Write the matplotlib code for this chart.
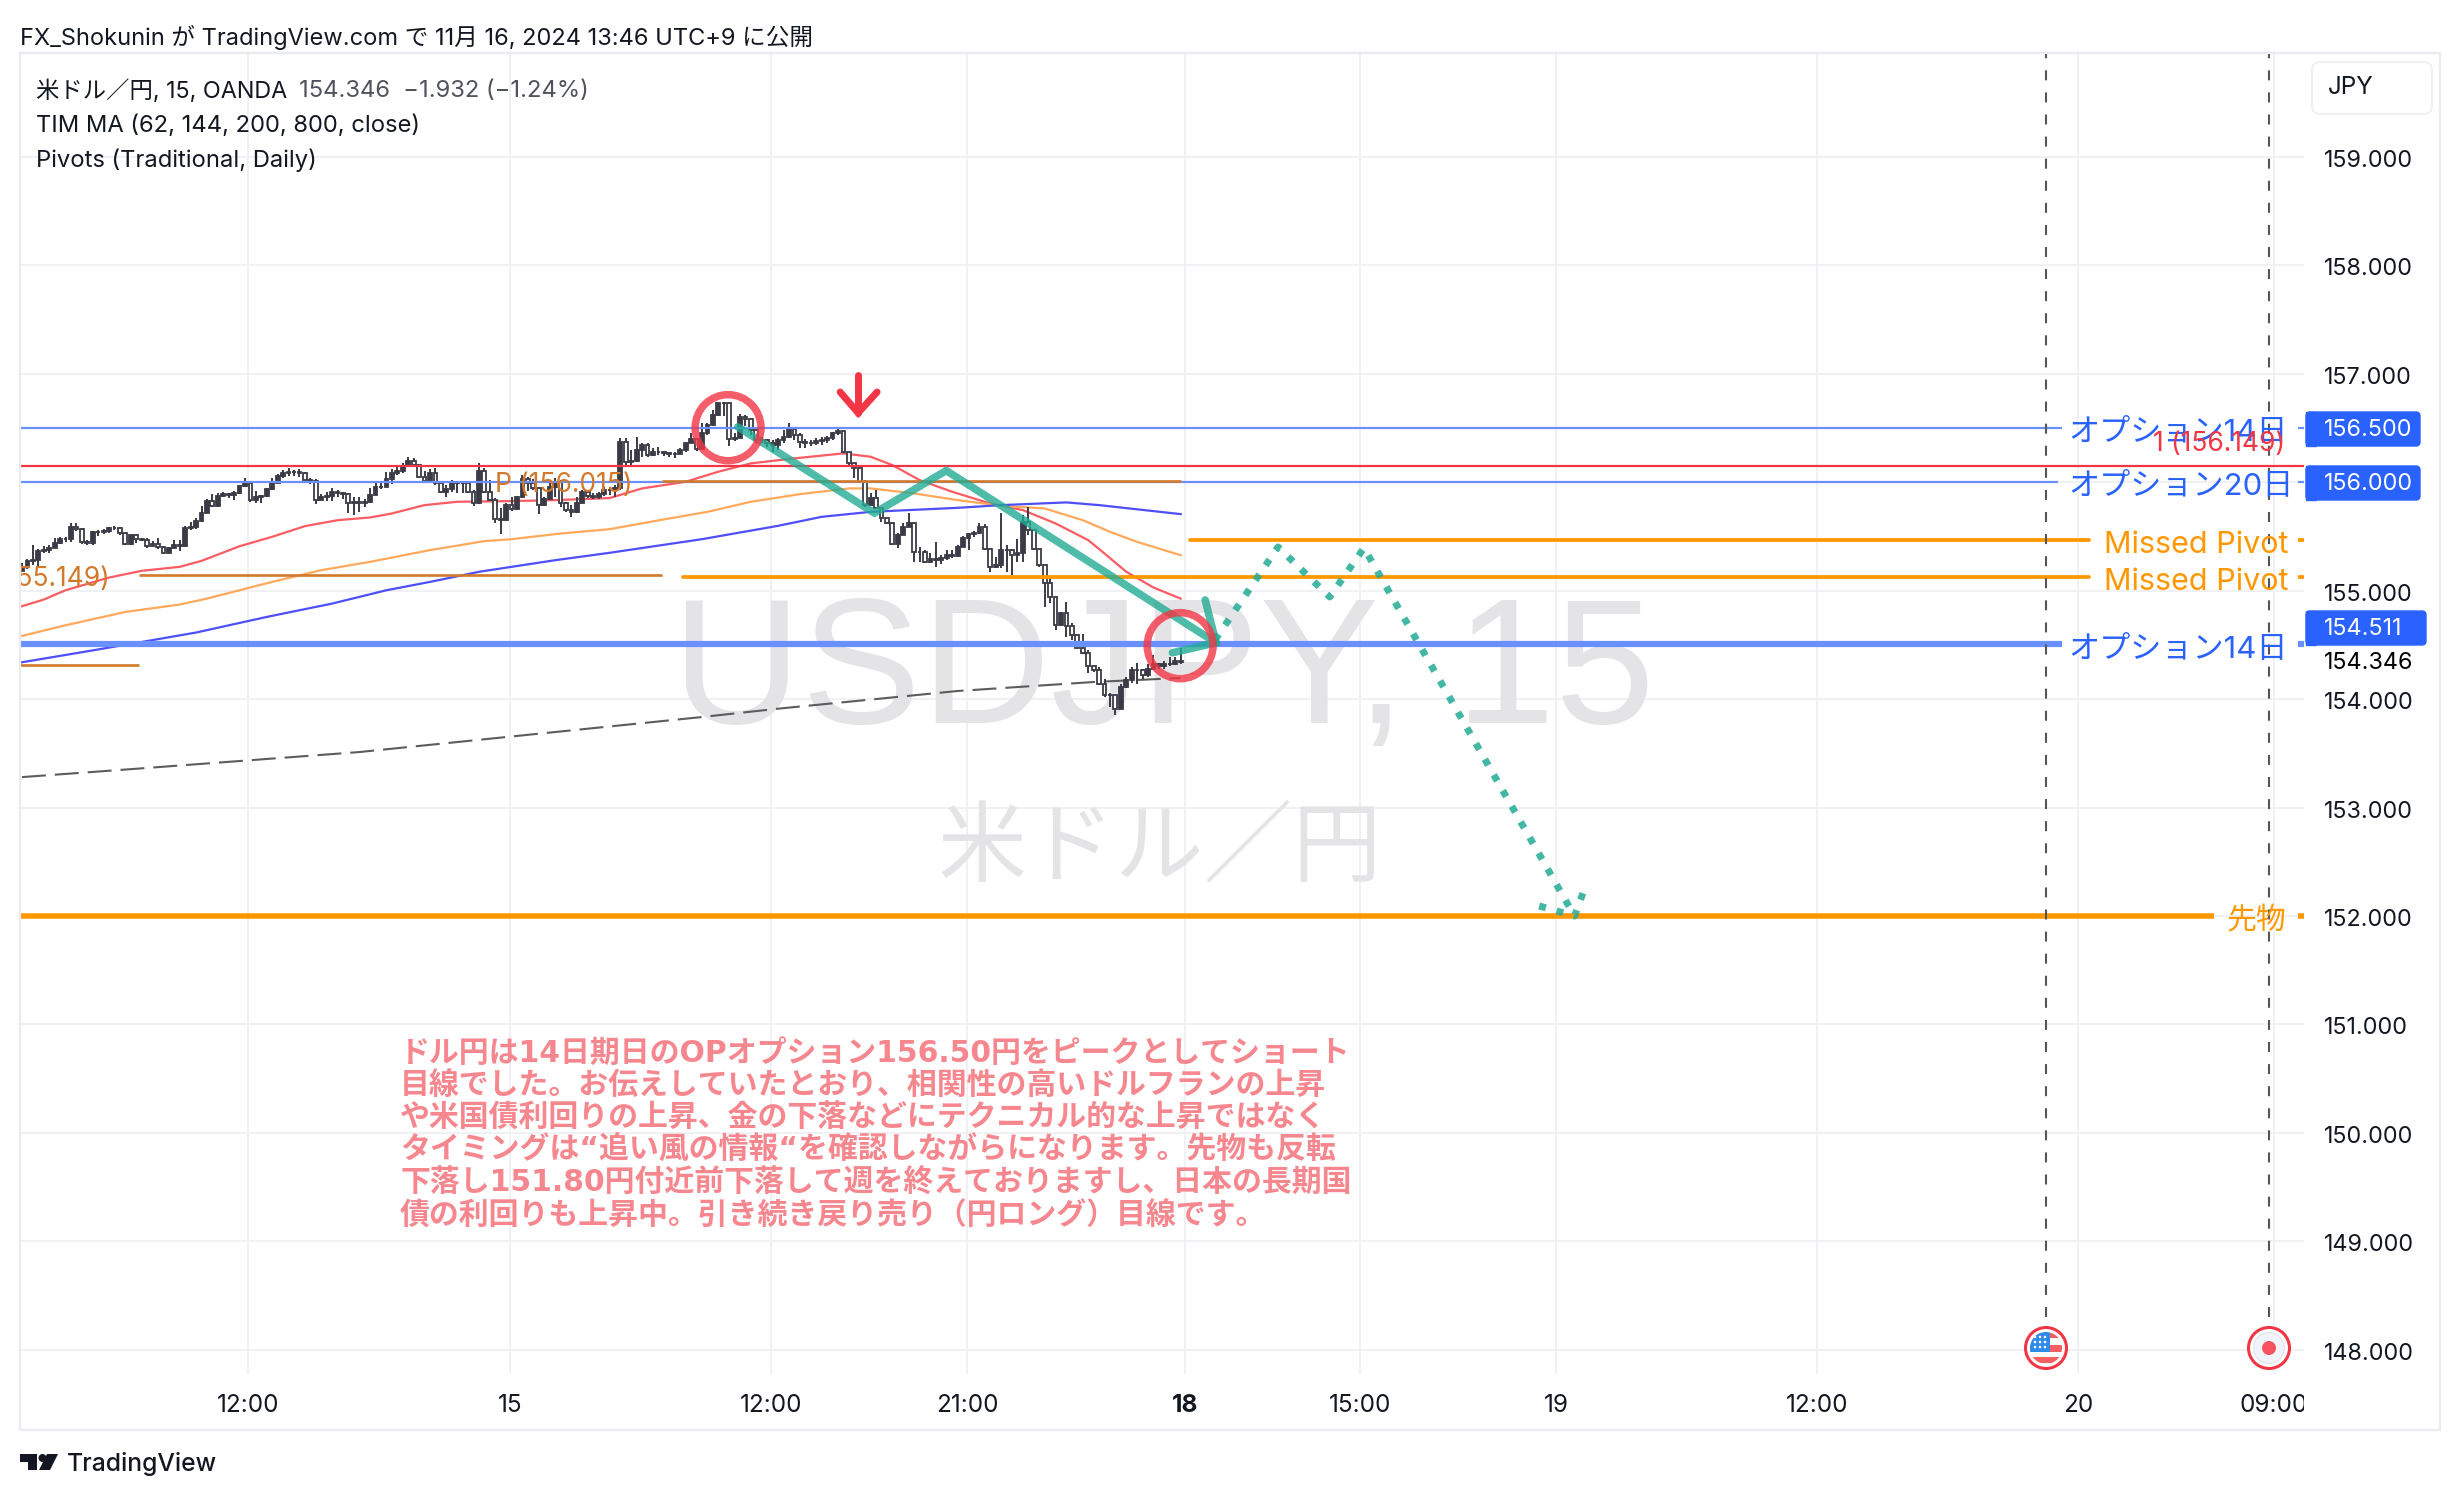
import numpy as np
import matplotlib
matplotlib.use('Agg')
import matplotlib.pyplot as plt
from matplotlib.patches import Circle, Ellipse, FancyBboxPatch, Polygon, Rectangle
from matplotlib.transforms import Affine2D, Bbox

plt.rcParams['font.family'] = ['Inter', 'Noto Sans CJK JP', 'DejaVu Sans']

# 15 minute USDJPY bars, open of a bar is the previous close
first_open = 155.18
bar_close = [
    155.215, 155.273, 155.283, 155.369, 155.375, 155.390, 155.443, 155.479, 155.473, 155.584,
    155.566, 155.449, 155.443, 155.538, 155.541, 155.553, 155.581, 155.581, 155.535, 155.430,
    155.513, 155.473, 155.467, 155.412, 155.427, 155.399, 155.350, 155.390, 155.421, 155.415,
    155.575, 155.590, 155.646, 155.719, 155.830, 155.781, 155.873, 155.892, 155.883, 155.898,
    155.966, 155.996, 155.836, 155.867, 155.873, 155.935, 155.996, 156.060, 156.087, 156.093,
    156.090, 156.085, 156.020, 156.010, 155.840, 155.861, 155.876, 155.913, 155.904, 155.888,
    155.805, 155.818, 155.812, 155.821, 155.882, 155.959, 155.953, 156.027, 156.082, 156.107,
    156.150, 156.199, 156.159, 156.045, 156.015, 156.088, 155.990, 155.913, 155.935, 156.005,
    155.996, 155.990, 155.913, 155.805, 156.107, 155.913, 155.836, 155.658, 155.652, 155.790,
    155.750, 155.861, 156.027, 155.990, 155.944, 155.790, 155.842, 155.959, 156.005, 155.805,
    155.744, 155.728, 155.812, 155.913, 155.873, 155.867, 155.892, 155.928, 155.928, 155.944,
    156.374, 156.189, 156.199, 156.297, 156.343, 156.251, 156.282, 156.279, 156.266, 156.260,
    156.260, 156.297, 156.365, 156.396, 156.303, 156.451, 156.528, 156.620, 156.734, 156.734,
    156.396, 156.405, 156.605, 156.580, 156.482, 156.389, 156.389, 156.359, 156.343, 156.389,
    156.420, 156.488, 156.436, 156.374, 156.359, 156.365, 156.383, 156.389, 156.405, 156.451,
    156.476, 156.282, 156.174, 156.128, 156.005, 155.790, 155.851, 155.759, 155.666, 155.626,
    155.429, 155.513, 155.589, 155.626, 155.359, 155.359, 155.267, 155.288, 155.282, 155.298,
    155.328, 155.319, 155.405, 155.482, 155.522, 155.534, 155.590, 155.381, 155.221, 155.236,
    155.374, 155.374, 155.328, 155.344, 155.636, 155.559, 155.381, 155.236, 155.067, 154.944,
    154.682, 154.790, 154.673, 154.590, 154.476, 154.427, 154.304, 154.273, 154.138, 154.036,
    154.036, 153.913, 154.113, 154.174, 154.267, 154.273, 154.221, 154.282, 154.328, 154.304,
    154.328, 154.328, 154.353, 154.346,
]
bar_high = [
    155.252, 155.289, 155.421, 155.381, 155.412, 155.421, 155.483, 155.498, 155.498, 155.621,
    155.627, 155.575, 155.467, 155.550, 155.559, 155.566, 155.590, 155.596, 155.590, 155.544,
    155.523, 155.523, 155.483, 155.483, 155.461, 155.483, 155.412, 155.406, 155.467, 155.467,
    155.596, 155.636, 155.667, 155.781, 155.842, 155.892, 155.898, 155.913, 155.904, 155.923,
    155.975, 156.036, 156.006, 155.923, 155.883, 155.944, 156.036, 156.080, 156.115, 156.127,
    156.110, 156.120, 156.090, 156.040, 156.030, 155.892, 155.913, 155.944, 155.928, 155.913,
    155.898, 155.861, 155.861, 155.842, 155.944, 155.996, 155.996, 156.098, 156.119, 156.138,
    156.175, 156.230, 156.221, 156.150, 156.107, 156.119, 156.128, 155.990, 155.975, 156.021,
    156.015, 156.008, 156.005, 155.928, 156.181, 156.128, 156.021, 155.852, 155.759, 155.805,
    155.867, 155.873, 156.067, 156.045, 156.027, 155.953, 155.861, 156.021, 156.036, 156.021,
    155.821, 155.790, 155.867, 155.928, 155.928, 155.898, 155.913, 155.959, 155.959, 155.975,
    156.405, 156.405, 156.297, 156.420, 156.365, 156.365, 156.312, 156.328, 156.288, 156.282,
    156.279, 156.312, 156.374, 156.451, 156.405, 156.543, 156.549, 156.666, 156.740, 156.740,
    156.743, 156.451, 156.630, 156.620, 156.589, 156.488, 156.420, 156.396, 156.389, 156.405,
    156.482, 156.543, 156.512, 156.451, 156.396, 156.389, 156.405, 156.414, 156.426, 156.466,
    156.497, 156.476, 156.282, 156.174, 156.159, 156.020, 155.903, 155.928, 155.759, 155.666,
    155.636, 155.528, 155.620, 155.719, 155.636, 155.405, 155.374, 155.344, 155.451, 155.328,
    155.374, 155.374, 155.421, 155.504, 155.534, 155.553, 155.621, 155.614, 155.390, 155.307,
    155.713, 155.421, 155.381, 155.473, 155.698, 155.774, 155.559, 155.381, 155.236, 155.113,
    154.944, 154.805, 154.898, 154.698, 154.590, 154.605, 154.451, 154.304, 154.298, 154.190,
    154.052, 154.036, 154.144, 154.205, 154.298, 154.334, 154.282, 154.328, 154.405, 154.334,
    154.353, 154.390, 154.390, 154.467,
]
bar_low = [
    155.184, 155.196, 155.236, 155.215, 155.350, 155.350, 155.396, 155.430, 155.449, 155.449,
    155.553, 155.430, 155.421, 155.421, 155.504, 155.522, 155.535, 155.559, 155.513, 155.421,
    155.421, 155.436, 155.458, 155.390, 155.412, 155.381, 155.344, 155.344, 155.390, 155.369,
    155.406, 155.559, 155.566, 155.636, 155.713, 155.775, 155.775, 155.861, 155.852, 155.836,
    155.892, 155.953, 155.821, 155.812, 155.812, 155.861, 155.929, 155.990, 156.040, 156.060,
    156.060, 156.050, 155.990, 155.980, 155.800, 155.836, 155.830, 155.830, 155.861, 155.842,
    155.719, 155.701, 155.728, 155.775, 155.812, 155.928, 155.935, 155.984, 155.984, 156.067,
    156.088, 156.144, 156.138, 156.036, 155.990, 155.990, 155.975, 155.904, 155.861, 155.913,
    155.898, 155.898, 155.898, 155.781, 155.799, 155.898, 155.830, 155.621, 155.522, 155.645,
    155.738, 155.744, 155.852, 155.922, 155.928, 155.707, 155.781, 155.836, 155.867, 155.775,
    155.728, 155.676, 155.719, 155.812, 155.852, 155.842, 155.842, 155.873, 155.882, 155.867,
    155.928, 156.149, 156.159, 156.189, 156.236, 156.236, 156.242, 156.251, 156.242, 156.236,
    156.220, 156.266, 156.282, 156.359, 156.291, 156.303, 156.436, 156.519, 156.611, 156.611,
    156.334, 156.383, 156.405, 156.519, 156.436, 156.365, 156.365, 156.328, 156.282, 156.297,
    156.359, 156.405, 156.389, 156.312, 156.312, 156.334, 156.343, 156.343, 156.359, 156.389,
    156.436, 156.272, 156.149, 156.036, 155.996, 155.774, 155.790, 155.749, 155.636, 155.614,
    155.420, 155.389, 155.513, 155.589, 155.267, 155.267, 155.258, 155.258, 155.221, 155.245,
    155.282, 155.298, 155.307, 155.405, 155.374, 155.491, 155.522, 155.374, 155.174, 155.205,
    155.205, 155.174, 155.144, 155.267, 155.267, 155.513, 155.374, 155.221, 154.845, 154.882,
    154.642, 154.673, 154.574, 154.544, 154.467, 154.414, 154.242, 154.251, 154.128, 154.021,
    153.928, 153.851, 153.913, 154.107, 154.150, 154.144, 154.190, 154.205, 154.282, 154.282,
    154.282, 154.304, 154.313, 154.328,
]

# TIM MA lines, sampled at bar numbers
ma62_bars = [0, 4, 8, 16, 22, 29, 33, 40, 46, 52, 58, 64, 68, 74, 80, 90, 98, 108, 114, 122, 128, 134, 142, 151, 156, 160, 165, 171, 178, 184, 190, 196, 199, 203, 208, 213]
ma62 = [154.857, 154.918, 155.004, 155.121, 155.183, 155.220, 155.275, 155.410, 155.497, 155.595, 155.650, 155.675, 155.712, 155.789, 155.820, 155.826, 155.835, 155.854, 155.943, 156.004, 156.097, 156.174, 156.220, 156.266, 156.235, 156.158, 156.020, 155.912, 155.804, 155.743, 155.620, 155.466, 155.343, 155.174, 155.029, 154.927]
ma144_bars = [0, 8, 19, 29, 34, 46, 55, 64, 75, 85, 90, 99, 108, 119, 126, 134, 143, 152, 156, 164, 172, 180, 188, 195, 200, 205, 213]
ma144 = [154.583, 154.681, 154.804, 154.872, 154.927, 155.081, 155.189, 155.266, 155.374, 155.457, 155.475, 155.527, 155.567, 155.666, 155.727, 155.820, 155.890, 155.943, 155.943, 155.897, 155.835, 155.783, 155.758, 155.650, 155.543, 155.450, 155.327]
ma200_bars = [0, 12, 22, 32, 45, 57, 67, 75, 84, 98, 108, 125, 139, 147, 156, 172, 180, 192, 198, 213]
ma200 = [154.340, 154.441, 154.527, 154.614, 154.758, 154.881, 155.004, 155.081, 155.174, 155.281, 155.349, 155.475, 155.598, 155.681, 155.727, 155.764, 155.789, 155.814, 155.789, 155.706]
ma800_bars = [0, 21, 62, 86, 125, 139, 172, 197, 213]
ma800 = [153.281, 153.358, 153.512, 153.635, 153.835, 153.912, 154.075, 154.158, 154.195]

# horizontal levels
option_levels = [156.5, 156.0, 154.511]
option_names = ['オプション14日', 'オプション20日', 'オプション14日']
r1_level = 156.149
missed_pivots = [155.467, 155.129]
futures_level = 152.0
pivot_p1 = 154.315
pivot_p2 = 155.149
pivot_p3 = 156.015

# hand drawn scenario lines
path_bars = [131.6, 156.7, 169.9, 219.5]
path_prices = [156.51, 155.716, 156.107, 154.52]
path_head_bars = [217.5, 219.5, 211.5]
path_head_prices = [154.914, 154.52, 154.428]
plan_bars = [219.3, 230.9, 240.4, 246.7, 285.4]
plan_prices = [154.545, 155.403, 154.942, 155.394, 152.0]
plan_head_bars = [278.9, 285.4, 287.5]
plan_head_prices = [152.093, 152.0, 152.287]
circle_bars = [129.8, 212.9]
circle_prices = [156.503, 154.493]

price_ticks = [148, 149, 150, 151, 152, 153, 154, 155, 156, 157, 158, 159]
time_ticks = [41.54, 89.7, 137.7, 173.7, 213.8, 246, 282, 330, 378, 414]
time_labels = ['12:00', '15', '12:00', '21:00', '18', '15:00', '19', '12:00', '20', '09:00']

comment_lines = [
    'ドル円は14日期日のOPオプション156.50円をピークとしてショート',
    '目線でした。お伝えしていたとおり、相関性の高いドルフランの上昇',
    'や米国債利回りの上昇、金の下落などにテクニカル的な上昇ではなく',
    'タイミングは“追い風の情報“を確認しながらになります。先物も反転',
    '下落し151.80円付近前下落して週を終えておりますし、日本の長期国',
    '債の利回りも上昇中。引き続き戻り売り（円ロング）目線です。',
]

W, H = 2460, 1500
DARK = '#3a3b47'
BLUE = '#2962ff'
LINE_BLUE = '#6a8fff'
ORANGE = '#ff9800'
PIVOT = '#d2792b'
RED = '#f23645'
TEAL = '#22ab94'
TEXT = '#131722'
GRID = '#f0f1f5'
WATERMARK = '#e4e4e7'

fig = plt.figure(figsize=(W / 100, H / 100), dpi=100, facecolor='white')
ax = fig.add_axes([20 / W, (H - 1374) / H, 2284 / W, 1321 / H])
ax.patch.set_visible(False)
ax.set_xlim(-0.368, 419.5)
ax.set_ylim(147.777, 159.958)
for s in ax.spines.values():
    s.set_visible(False)

# top-left pixel coordinates for the page furniture
px = Affine2D().scale(1, -1).translate(0, H)

fig.add_artist(Rectangle((20, 53), 2420, 1377, transform=px, fill=False, ec='#e9ebf1', lw=1.6))

ax.set_axisbelow(True)
ax.grid(True, color=GRID, lw=1.4)
ax.yaxis.tick_right()
ax.set_yticks(price_ticks)
ax.set_yticklabels(['%.3f' % p for p in price_ticks], fontsize=16.8, color=TEXT)
ax.set_xticks(time_ticks)
ax.set_xticklabels(time_labels, fontsize=17.5, color=TEXT)
ax.tick_params(axis='y', length=0, pad=14)
ax.tick_params(axis='x', length=0, pad=14.5)
for t in ax.yaxis.get_major_ticks():
    t.label2.set_transform(t.label2.get_transform() + Affine2D().translate(0, -1.5))
ax.get_xticklabels()[4].set_fontweight('bold')
axis_clip = Bbox([[0, 0], [2304, H]])
ax.get_xticklabels()[9].set_clip_box(axis_clip)
ax.get_xticklabels()[9].set_clip_on(True)

# watermark
ax.text(1163, 723, 'USDJPY, 15', transform=px, fontsize=129, family='Liberation Sans', color=WATERMARK,
        ha='center', va='baseline', zorder=0.6, clip_on=False)
ax.text(1160, 849, '米ドル／円', transform=px, fontsize=64, family=['Noto Sans CJK JP'], color=WATERMARK,
        ha='center', va='center', zorder=0.6, clip_on=False)

# moving averages
ax.plot(ma62_bars, ma62, color='#fb5c64', lw=1.6, zorder=2)
ax.plot(ma144_bars, ma144, color='#ffa95c', lw=1.6, zorder=2)
ax.plot(ma200_bars, ma200, color='#4f4ffa', lw=1.6, zorder=2)
ax.plot(ma800_bars, ma800, color='#5c5c5c', lw=1.5, ls=(0, (11.5, 4.3)), zorder=2)

# candles
n = np.arange(len(bar_close))
close = np.array(bar_close)
opens = np.r_[first_open, close[:-1]]
up = close >= opens
ax.vlines(n, bar_low, bar_high, color=DARK, lw=1.4, zorder=3)
ax.bar(n, np.abs(close - opens), bottom=np.minimum(close, opens), width=0.7,
       color=np.where(up, DARK, 'white'), edgecolor=DARK, lw=1.3, zorder=3.1)

# option levels with their stubs at the right edge
option_widths = [2.2, 2.2, 6.2]
option_ends = [375, 374.3, 375]
option_y = [433, 487, 650]
for lvl, name, w, end, y in zip(option_levels, option_names, option_widths, option_ends, option_y):
    ax.plot([-0.368, end], [lvl, lvl], color=LINE_BLUE, lw=w * 0.72, solid_capstyle='butt', zorder=4)
    ax.plot([418.4, 419.5], [lvl, lvl], color=LINE_BLUE, lw=w * 0.72, solid_capstyle='butt', zorder=4)
    ax.text(2068, y, name, transform=px, fontsize=22.4, color=BLUE, ha='left', va='center', zorder=6, clip_on=False)

ax.plot([-0.368, 419.5], [r1_level, r1_level], color=RED, lw=1.6, zorder=4)
ax.text(2285, 444, '1 (156.149)', transform=px, fontsize=19, color=RED, ha='right', va='center', zorder=6, clip_on=False)

missed_starts = [214.7, 121.5]
missed_y = [545, 582]
for lvl, start, y in zip(missed_pivots, missed_starts, missed_y):
    ax.plot([start, 380], [lvl, lvl], color=ORANGE, lw=2.7, solid_capstyle='round', zorder=4)
    ax.plot([418.4, 419.5], [lvl, lvl], color=ORANGE, lw=2.7, solid_capstyle='butt', zorder=4)
    ax.text(2104, y, 'Missed Pivot', transform=px, fontsize=22, color=ORANGE, ha='left', va='center', zorder=6, clip_on=False)

ax.plot([-0.368, 403], [futures_level, futures_level], color=ORANGE, lw=4, solid_capstyle='butt', zorder=4)
ax.plot([418.4, 419.5], [futures_level, futures_level], color=ORANGE, lw=4, solid_capstyle='butt', zorder=4)
ax.text(2286, 921, '先物', transform=px, fontsize=21.5, color=ORANGE, ha='right', va='center', zorder=6, clip_on=False)

# daily pivots
ax.plot([-0.368, 21.5], [pivot_p1, pivot_p1], color=PIVOT, lw=1.9, solid_capstyle='butt', zorder=4)
ax.plot([21.5, 117.6], [pivot_p2, pivot_p2], color=PIVOT, lw=1.9, solid_capstyle='butt', zorder=4)
ax.plot([117.6, 213], [pivot_p3, pivot_p3], color=PIVOT, lw=1.9, solid_capstyle='butt', zorder=4)
ax.text(16.2, pivot_p2 - 0.045, 'P (155.149)', fontsize=19, color=PIVOT, ha='right', va='center', clip_on=True, zorder=4)
ax.text(112.3, pivot_p3 - 0.045, 'P (156.015)', fontsize=19, color=PIVOT, ha='right', va='center', zorder=4)

# event markers
event_bars = [372.1, 413.1]
ax.vlines(event_bars, 148.3, 159.958, color='#555555', lw=1.5, linestyles=[(0, (4.8, 5.8))], zorder=4.5)

# scenario drawing
ax.plot(path_bars, path_prices, color=TEAL, alpha=0.8, lw=5.5, solid_capstyle='round', solid_joinstyle='miter', zorder=5)
ax.plot(path_head_bars, path_head_prices, color=TEAL, alpha=0.8, lw=5.5, solid_capstyle='round', solid_joinstyle='miter', zorder=5)
ax.plot(plan_bars, plan_prices, color=TEAL, alpha=0.85, lw=5, ls=(0, (1, 1.6)), dash_capstyle='butt', zorder=5)
ax.plot(plan_head_bars, plan_head_prices, color=TEAL, alpha=0.85, lw=5, ls=(0, (1, 1.6)), dash_capstyle='butt', zorder=5)
for b, p in zip(circle_bars, circle_prices):
    ax.add_patch(Ellipse((b, p), 12.1, 0.609, fill=False, ec=RED, lw=5.4, alpha=0.8, zorder=5))

# red arrow over the second top
ax.plot([153.7, 153.7], [156.989, 156.639], color=RED, lw=5, solid_capstyle='round', zorder=5)
ax.plot([150.4, 153.7, 157.2], [156.832, 156.639, 156.832], color=RED, lw=5, solid_capstyle='round', solid_joinstyle='miter', zorder=5)

# comment block, the wide latin digits come from DejaVu
comment_y = [1053.3, 1085.7, 1118.3, 1150.7, 1183.3, 1215.7]
for line, y in zip(comment_lines, comment_y):
    ax.text(400, y, line, transform=px, fontsize=21.55, fontweight='bold', color='#f7878f', ha='left', va='center',
            zorder=6, clip_on=False, family=['DejaVu Sans', 'Noto Sans CJK JP'])

# price badges
badges = [('156.500', 412, 2424), ('156.000', 466, 2424), ('154.511', 611, 2430)]
for label, top, right in badges:
    ax.add_patch(FancyBboxPatch((2306, top), right - 2306 - 4, 34, boxstyle='round,pad=0,rounding_size=4',
                                transform=px, fc=BLUE, ec=BLUE, lw=1, zorder=7, clip_on=False))
    ax.add_patch(Rectangle((2306, top), 10, 34, transform=px, fc=BLUE, ec=BLUE, lw=1, zorder=7, clip_on=False))
    ax.text(2324, top + 18, label, transform=px, fontsize=16.8, color='white', va='center', ha='left', zorder=8, clip_on=False)
ax.text(2324, 663, '154.346', transform=px, fontsize=16.8, color='#000000', va='center', ha='left', zorder=8, clip_on=False)

# currency button
ax.add_patch(FancyBboxPatch((2312, 62), 120, 52, boxstyle='round,pad=0,rounding_size=8', transform=px,
                            fc='white', ec='#eceef3', lw=1.2, zorder=7, clip_on=False))
ax.text(2351, 88, 'JPY', transform=px, fontsize=17.5, color=TEXT, ha='center', va='center', zorder=8, clip_on=False)

# calendar icons at the foot of the event lines
icon_y = 1348
for ix in [2046, 2269]:
    ax.add_patch(Circle((ix, icon_y), 20.5, transform=px, fc='white', ec=RED, lw=2.2, zorder=7, clip_on=False))
flag = Circle((2046, icon_y), 16, transform=px, fc='white', ec='none', zorder=7.1, clip_on=False)
ax.add_patch(flag)
for top, h in [(1333, 5), (1345, 7), (1357, 6)]:
    stripe = Rectangle((2030, top), 32, h, transform=px, fc='#f4605f', ec='none', zorder=7.2, clip_on=False)
    ax.add_patch(stripe)
    stripe.set_clip_path(flag)
    stripe.set_clip_on(True)
canton = Rectangle((2030, 1332), 20, 20, transform=px, fc='#2b8be6', ec='none', zorder=7.3, clip_on=False)
ax.add_patch(canton)
canton.set_clip_path(flag)
canton.set_clip_on(True)
for sy in [1337, 1342, 1347]:
    for sx in [2035, 2040, 2045]:
        ax.add_patch(Circle((sx, sy), 1.3, transform=px, fc='white', ec='none', zorder=7.4, clip_on=False))
ax.add_patch(Circle((2269, icon_y), 15.5, transform=px, fc='#f0f3fa', ec='#e0e3eb', lw=0.8, zorder=7.1, clip_on=False))
ax.add_patch(Circle((2269, icon_y), 7, transform=px, fc='#f7525f', ec='none', zorder=7.2, clip_on=False))

# header and legend
fig.text(20, 37, 'FX_Shokunin が TradingView.com で 11月 16, 2024 13:46 UTC+9 に公開', transform=px, fontsize=17,
         color=TEXT, ha='left', va='center')
fig.text(36, 91, '米ドル／円, 15, OANDA', transform=px, fontsize=16.8, color=TEXT, ha='left', va='center')
fig.text(299, 91, '154.346  −1.932 (−1.24%)', transform=px, fontsize=17.1, color='#50535e', ha='left', va='center')
fig.text(36, 126, 'TIM MA (62, 144, 200, 800, close)', transform=px, fontsize=17.1, color=TEXT, ha='left', va='center')
fig.text(36, 160, 'Pivots (Traditional, Daily)', transform=px, fontsize=17.1, color=TEXT, ha='left', va='center')

# TradingView mark
fig.add_artist(Polygon([(20, 1454), (37, 1454), (37, 1470), (28, 1470), (28, 1462), (20, 1462)], transform=px, fc=TEXT, ec='none'))
fig.add_artist(Circle((42.5, 1458), 4, transform=px, fc=TEXT, ec='none'))
fig.add_artist(Polygon([(47, 1454), (58, 1454), (50, 1470), (39, 1470)], transform=px, fc=TEXT, ec='none'))
fig.text(67, 1464, 'TradingView', transform=px, fontsize=17.8, fontweight='medium', color=TEXT, ha='left', va='center')

fig.savefig('out.png', dpi=100)
